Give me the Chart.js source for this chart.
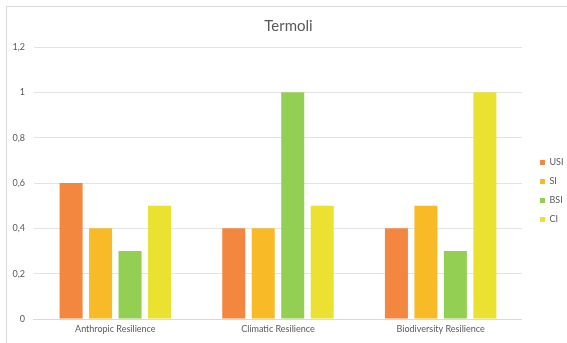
<!DOCTYPE html>
<html>
<head>
<meta charset="utf-8">
<script src="https://cdn.jsdelivr.net/npm/chart.js@4/dist/chart.umd.min.js"></script>
<style>
  body { margin: 0; background: #fff; overflow: hidden; }
  #box { position: absolute; left: 6px; top: 6px; width: 560px; height: 336px; border-left: 1px solid #d9d9d9; border-top: 1px solid #d9d9d9; }
</style>
</head>
<body>
<div id="box"><canvas id="grafico" width="560" height="336"></canvas></div>
<script>
// Dati del grafico
const categorie = ['Anthropic Resilience', 'Climatic Resilience', 'Biodiversity Resilience'];
const usi = [0.6, 0.4, 0.4];
const si = [0.4, 0.4, 0.5];
const bsi = [0.3, 1.0, 0.3];
const ci = [0.5, 0.5, 1.0];

const grigio = '#595959';
const font = 'Lato, Calibri, sans-serif';

new Chart(document.getElementById('grafico'), {
  type: 'bar',
  data: {
    labels: categorie,
    datasets: [
      { label: 'USI', data: usi, backgroundColor: '#F4873F' },
      { label: 'SI', data: si, backgroundColor: '#F8BA26' },
      { label: 'BSI', data: bsi, backgroundColor: '#92CF52' },
      { label: 'CI', data: ci, backgroundColor: '#EAE130' }
    ]
  },
  options: {
    responsive: false,
    animation: false,
    datasets: { bar: { barPercentage: 0.78, categoryPercentage: 0.725 } },
    layout: { padding: { left: -3.5, right: -6.5, top: 5.2, bottom: 3.2 } },
    plugins: {
      title: {
        display: true, text: 'Termoli', color: grigio,
        font: { family: font, size: 15, weight: 'normal' },
        padding: { top: 5, bottom: 11.8 }
      },
      legend: {
        position: 'right',
        title: { display: true, text: ' ', font: { size: 10 }, padding: { top: 9, bottom: 9 } },
        labels: {
          color: grigio, boxWidth: 5, boxHeight: 5, padding: 10,
          font: { family: font, size: 9 }
        }
      },
      tooltip: { enabled: false }
    },
    scales: {
      x: {
        grid: { display: false, drawTicks: false },
        border: { color: '#d9d9d9' },
        ticks: { color: grigio, font: { family: font, size: 9 }, padding: 5 }
      },
      y: {
        min: 0, max: 1.2,
        border: { display: false },
        grid: { color: '#e3e3e3', drawTicks: false },
        ticks: {
          stepSize: 0.2, color: grigio, padding: 9,
          font: { family: font, size: 9 },
          callback: v => String(Math.round(v * 10) / 10).replace('.', ',')
        }
      },
      // spazio vuoto tra area del grafico e legenda
      spazio: {
        type: 'linear', position: 'right', display: true,
        grid: { display: false, drawTicks: false },
        border: { display: false },
        ticks: { display: false },
        afterFit: s => { s.width = 8; }
      }
    }
  }
});
</script>
</body>
</html>
